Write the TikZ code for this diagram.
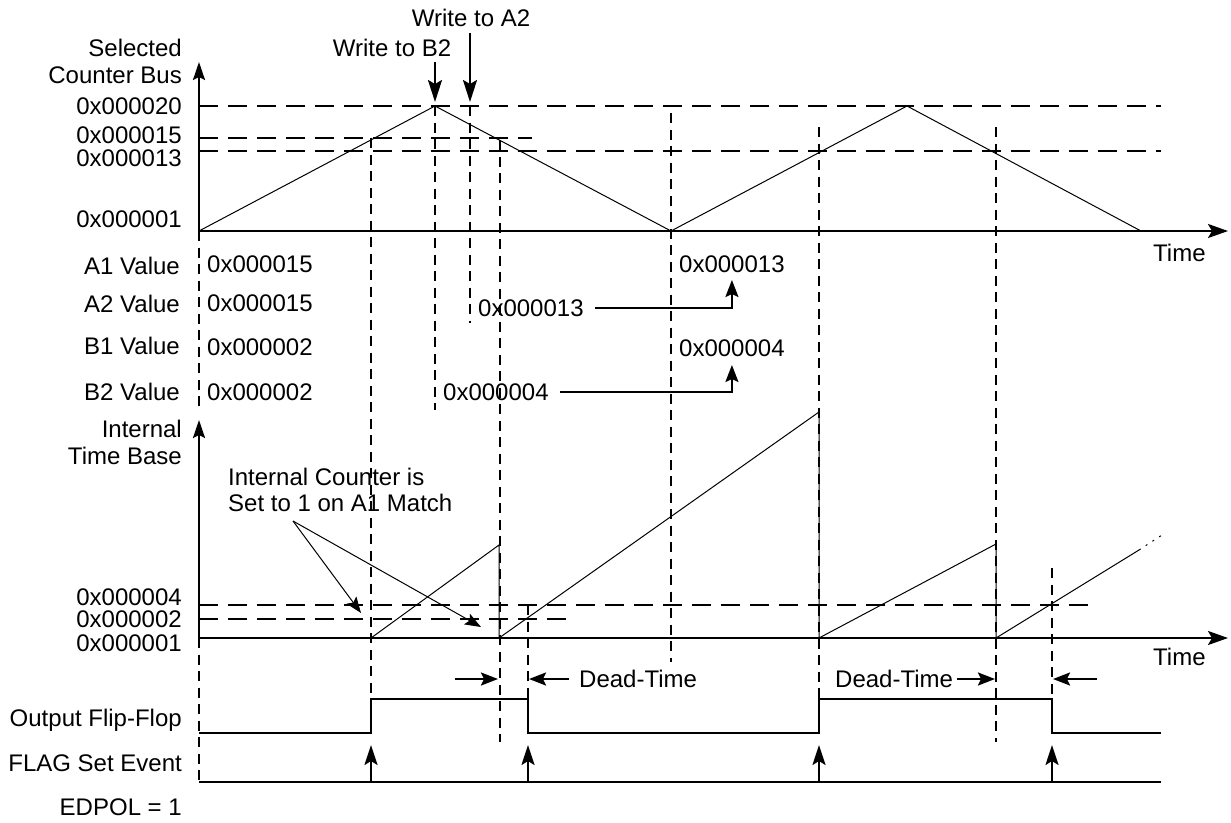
\documentclass[tikz,border=0pt]{standalone}
\usepackage{fontspec}
\setmainfont{Liberation Sans}
\usetikzlibrary{arrows.meta}
\begin{document}
\begin{tikzpicture}[x=1pt,y=-1pt,
  lbl/.style={inner sep=0pt, font=\fontsize{24}{28}\selectfont},
  lblR/.style={lbl, anchor=base east},
  lblL/.style={lbl, anchor=base west},
  lblC/.style={lbl, anchor=base},
  axis/.style={line width=2.2pt, -{Stealth[length=20pt,width=14pt,inset=4pt]}},
  yaxis/.style={line width=2.2pt, -{Stealth[length=18pt,width=12pt,inset=3pt]}},
  wave/.style={line width=1pt},
  hdash/.style={line width=2.2pt, dash pattern=on 19pt off 10pt},
  vdash/.style={line width=2.2pt, dash pattern=on 10pt off 6.5pt},
  sig/.style={line width=2.4pt},
  warrow/.style={line width=2.2pt, -{Stealth[length=22pt,width=14pt,inset=4pt]}},
  farrow/.style={line width=2.2pt, -{Stealth[length=20pt,width=13pt,inset=4pt]}},
  darrow/.style={line width=2.2pt, -{Stealth[length=17pt,width=13pt,inset=3pt]}},
  carrow/.style={line width=1pt, -{Stealth[length=16pt,width=12pt,inset=3pt]}},
]
\fill[white] (0,0) rectangle (1231,822);
\useasboundingbox (0,0) rectangle (1231,822);

% ---------- top plot: Selected Counter Bus ----------
\node[lblR] (sel1) at (182,56.5) {Selected};
\node[lblR] (sel2) at (182,83.5) {Counter Bus};
\node[lblR] (v20) at (182,114.5) {0x000020};
\node[lblR] (v15) at (182,143) {0x000015};
\node[lblR] (v13) at (182,166) {0x000013};
\node[lblR] (v01) at (182,227.5) {0x000001};
\node[lblL] (time1) at (1153,261.5) {Time};

\coordinate (O1) at (199,231);
\coordinate (Y1) at (199,62);
\coordinate (T1) at (1228,231);

% dashed levels
\coordinate (h20a) at (199,106); \coordinate (h20b) at (1161,106);
\coordinate (h15a) at (199,138); \coordinate (h15b) at (532,138);
\coordinate (h13a) at (199,151); \coordinate (h13b) at (1161,151);
\draw[hdash] (h20a) -- (h20b);
\draw[hdash] (h15a) -- (h15b);
\draw[hdash] (h13a) -- (h13b);

% triangle wave
\coordinate (p0) at (199,231);
\coordinate (p1) at (435,106);
\coordinate (p2) at (671,231);
\coordinate (p3) at (907,106);
\coordinate (p4) at (1141,231);
\draw[wave] (p0) -- (p1) -- (p2) -- (p3) -- (p4);

% write arrows
\node[lblC] (wB2) at (392,56.5) {Write to B2};
\node[lblC] (wA2) at (471,26.5) {Write to A2};
\coordinate (wB2s) at (435,62); \coordinate (wB2e) at (435,102);
\coordinate (wA2s) at (470,33); \coordinate (wA2e) at (470,102);
\draw[warrow] (wB2s) -- (wB2e);
\draw[warrow] (wA2s) -- (wA2e);

% ---------- register values ----------
\node[lblR] (A1l) at (180,274.5) {A1 Value};
\node[lblR] (A2l) at (180,312.5) {A2 Value};
\node[lblR] (B1l) at (180,354.5) {B1 Value};
\node[lblR] (B2l) at (180,400.5) {B2 Value};
\node[lblL] (A1v) at (207,272.5) {0x000015};
\node[lblL] (A2v) at (207,311.5) {0x000015};
\node[lblL] (B1v) at (207,355.5) {0x000002};
\node[lblL] (B2v) at (207,400.5) {0x000002};
\node[lblL] (A1n) at (679,272.5) {0x000013};
\node[lblL] (B1n) at (679,356.5) {0x000004};
\node[lblL] (A2n) at (478,316.5) {0x000013};
\node[lblL] (B2n) at (443,400.5) {0x000004};
\coordinate (A2s) at ([xshift=11pt]A2n.east);
\coordinate (B2s) at ([xshift=11pt]B2n.east);
\coordinate (A1t) at (A1n.south |- 0,280);
\coordinate (B1t) at (B1n.south |- 0,365);
\draw[darrow] (A2s) -| (A1t);
\draw[darrow] (B2s) -| (B1t);

% ---------- internal time base ----------
\node[lblR] (it1) at (182,437.5) {Internal};
\node[lblR] (it2) at (182,464.5) {Time Base};
\node[lblR] (w04) at (182,605.5) {0x000004};
\node[lblR] (w02) at (182,627.5) {0x000002};
\node[lblR] (w01) at (182,651.5) {0x000001};
\node[lblL] (time2) at (1153,665.5) {Time};
\node[lblL] (co1) at (228,485.5) {Internal Counter is};
\node[lblL] (co2) at (228,511.5) {Set to 1 on A1 Match};

\coordinate (O2) at (199,638);
\coordinate (Y2) at (199,420);
\coordinate (T2) at (1228,638);

\coordinate (g04a) at (199,605); \coordinate (g04b) at (1090,605);
\coordinate (g02a) at (199,619); \coordinate (g02b) at (566,619);
\draw[hdash] (g04a) -- (g04b);
\draw[hdash] (g02a) -- (g02b);

% ramps
\coordinate (r1a) at (371,638); \coordinate (r1b) at (499,545); \coordinate (r1c) at (499,638);
\coordinate (r2b) at (819,412); \coordinate (r2c) at (819,638);
\coordinate (r3b) at (996,544); \coordinate (r3c) at (996,638);
\coordinate (r4b) at (1139,550); \coordinate (r4c) at (1162,535);
\draw[wave] (r1a) -- (r1b) -- (r1c) -- (r2b) -- (r2c) -- (r3b) -- (r3c) -- (r4b);
\draw[wave, dash pattern=on 2pt off 6pt] (r4b) -- (r4c);

% callout arrows
\coordinate (cs) at (293,521);
\coordinate (ce1) at (361,613);
\coordinate (ce2) at (481,627);
\draw[carrow] (cs) -- (ce1);
\draw[carrow] (cs) -- (ce2);

% ---------- vertical dashed markers ----------
\coordinate (L1a) at (199,231); \coordinate (L1b) at (199,408);
\coordinate (L2a) at (199,638); \coordinate (L2b) at (199,782);
\coordinate (d371a) at (371,138); \coordinate (d371b) at (371,699);
\coordinate (d435a) at (435,106); \coordinate (d435b) at (435,410);
\coordinate (d470a) at (470,106); \coordinate (d470b) at (470,323);
\coordinate (d500a) at (500,140); \coordinate (d500b) at (500,742);
\coordinate (d528a) at (528,605); \coordinate (d528b) at (528,699);
\coordinate (d671a) at (671,113); \coordinate (d671b) at (671,662);
\coordinate (d819a) at (819,127); \coordinate (d819b) at (819,699);
\coordinate (d996a) at (996,127); \coordinate (d996b) at (996,742);
\coordinate (d1052a) at (1052,568); \coordinate (d1052b) at (1052,699);
\foreach \n in {L1,L2,d371,d435,d470,d500,d528,d671,d819,d996,d1052}
  \draw[vdash] (\n a) -- (\n b);

% axes (drawn over dashes)
\draw[yaxis] (O1) -- (Y1);
\draw[axis] (O1) -- (T1);
\draw[yaxis] (O2) -- (Y2);
\draw[axis] (O2) -- (T2);

% ---------- dead-time ----------
\node[lblL] (dt1) at (579,687.5) {Dead-Time};
\node[lblL] (dt2) at (835,687.5) {Dead-Time};
\coordinate (da1s) at (455,679); \coordinate (da1e) at (498,679);
\coordinate (da2s) at (569,679); \coordinate (da2e) at (529,679);
\coordinate (da3s) at (957,679); \coordinate (da3e) at (995,679);
\coordinate (da4s) at (1097,679); \coordinate (da4e) at (1053,679);
\draw[darrow] (da1s) -- (da1e);
\draw[darrow] (da2s) -- (da2e);
\draw[darrow] (da3s) -- (da3e);
\draw[darrow] (da4s) -- (da4e);

% ---------- output flip-flop ----------
\node[lblR] (offl) at (182,726.5) {Output Flip-Flop};
\coordinate (f0) at (199,733);
\coordinate (f1) at (371,733); \coordinate (f2) at (371,699);
\coordinate (f3) at (528,699); \coordinate (f4) at (528,733);
\coordinate (f5) at (819,733); \coordinate (f6) at (819,699);
\coordinate (f7) at (1052,699); \coordinate (f8) at (1052,733);
\coordinate (f9) at (1161,733);
\draw[sig] (f0) -- (f1) -- (f2) -- (f3) -- (f4) -- (f5) -- (f6) -- (f7) -- (f8) -- (f9);

% ---------- flag set event ----------
\node[lblR] (flag) at (182,771.5) {FLAG Set Event};
\coordinate (g0) at (199,782); \coordinate (g9) at (1161,782);
\draw[sig] (g0) -- (g9);
\foreach \x [count=\i] in {371,528,819,1052} {
  \coordinate (fa\i) at (\x,782);
  \coordinate (fb\i) at (\x,745);
  \draw[farrow] (fa\i) -- (fb\i);
}

\node[lblR] (edpol) at (182,815.5) {EDPOL = 1};
\end{tikzpicture}
\end{document}
